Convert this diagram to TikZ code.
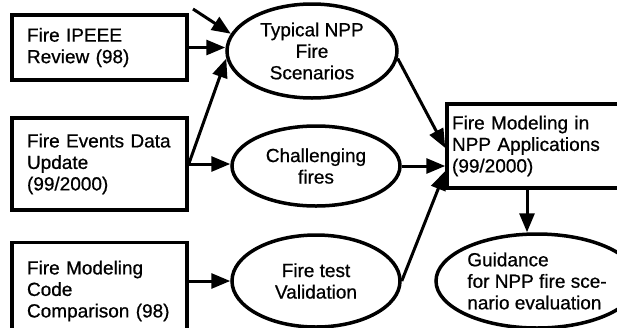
\documentclass[tikz,border=0pt]{standalone}
\usepackage{fontspec}
\setmainfont{Liberation Sans}[FakeBold=0.7]
\usepackage{tikz}
\usetikzlibrary{arrows.meta, shapes.geometric}

\begin{document}
\begin{tikzpicture}[
  x=1pt, y=-1pt,
  >={Triangle[length=19pt, width=15pt]},
  box/.style={draw, line width=3.5pt, inner xsep=15pt, inner ysep=0pt,
    text width=145pt, align=left, font=\fontsize{19}{21.5}\selectfont},
  oval/.style={draw, ellipse, line width=3.5pt, inner sep=0pt,
    align=center, font=\fontsize{19}{21.5}\selectfont},
  arrow/.style={->, line width=3pt},
]
\useasboundingbox (0,0) rectangle (617,327);

% ===== LEFT COLUMN: studies =====
\node[box, minimum height=65pt] (ipeee) at (99.5, 47.5)
  {Fire IPEEE\\Review (98)};
\node[box, minimum height=92pt] (events) at (99.5, 164)
  {Fire Events Data\\Update\\(99/2000)};
\node[box, minimum height=97pt] (codecomp) at (99.5, 291)
  {Fire Modeling\\Code\\Comparison (98)};

% ===== MIDDLE COLUMN: fire topics =====
\node[oval, minimum width=170pt, minimum height=94pt] (typical)
  at (312, 51) {Typical NPP\\Fire\\Scenarios};
\node[oval, minimum width=168pt, minimum height=80pt] (challenge)
  at (316, 166) {Challenging\\fires};
\node[oval, minimum width=168pt, minimum height=92pt] (validation)
  at (316, 281) {Fire test\\Validation};

% ===== RIGHT COLUMN: applications =====
\node[box, inner xsep=5pt, text width=175pt, minimum height=84pt]
  (applic) at (539.5, 146) {Fire Modeling in\\NPP Applications\\(99/2000)};
\node[oval, align=left, minimum width=202pt, minimum height=94pt]
  (guidance) at (537, 281)
  {Guidance\\for NPP fire sce-\\nario evaluation};

% Arrows into the scenarios
\coordinate (outside) at (193, 9);
\draw[arrow] (outside) -- (typical.168);
\draw[arrow] (ipeee.east) -- (ipeee.east -| typical.west);
\draw[arrow] (events.east) -- (typical.185);
\draw[arrow] (events.east) -- (events.east -| challenge.west);
\draw[arrow] (validation.west -| codecomp.east) -- (validation.west);

% Arrows into the applications
\draw[arrow] (typical.-5) -- ([yshift=-2pt]applic.west);
\draw[arrow] (challenge.east) -- (challenge.east -| applic.west);
\draw[arrow] (validation.east) -- ([yshift=-25pt]applic.west);
\draw[arrow] ([xshift=-10pt]guidance.north |- applic.south)
  -- ([xshift=-10pt]guidance.north);

\end{tikzpicture}
\end{document}
